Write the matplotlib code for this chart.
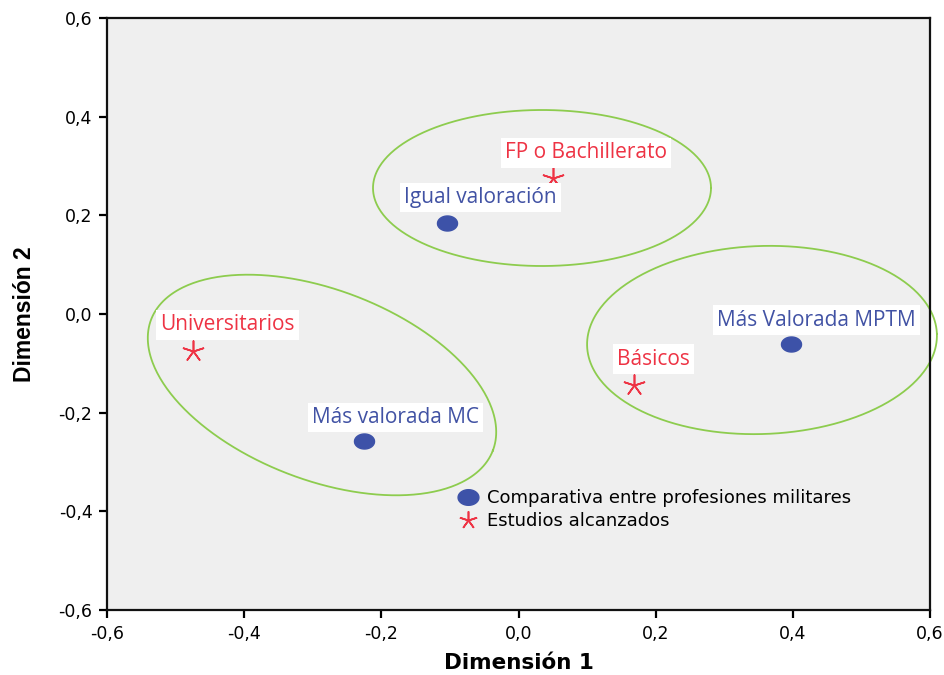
import numpy as np
import matplotlib
matplotlib.use("Agg")
import matplotlib.pyplot as plt
from matplotlib.path import Path
from matplotlib.lines import Line2D

# Data
prof_labels = ["Igual valoración", "Más Valorada MPTM", "Más valorada MC"]
prof_x = [-0.104, 0.397, -0.225]
prof_y = [0.185, -0.061, -0.258]

est_labels = ["FP o Bachillerato", "Básicos", "Universitarios"]
est_x = [0.050, 0.168, -0.474]
est_y = [0.276, -0.144, -0.075]

legend_labels = ["Comparativa entre profesiones militares", "Estudios alcanzados"]
ticks = [-0.6, -0.4, -0.2, 0.0, 0.2, 0.4, 0.6]
tick_labels = [f"{t:.1f}".replace(".", ",") for t in ticks]

BLUE = "#3d52a8"
BLUE_TXT = "#4152a4"
RED = "#ee3344"
GREEN = "#8dcc4e"

fig = plt.figure(figsize=(9.44, 6.75), dpi=100)
ax = fig.add_axes([107/944, 1-610/675, (930-107)/944, (610-18)/675])
ax.set_facecolor("#efefef")
ax.set_xlim(-0.6, 0.6)
ax.set_ylim(-0.6, 0.6)

# elliptical marker (slightly wider than tall)
th = np.linspace(0, 2*np.pi, 60)
ell_marker = Path(np.column_stack([np.cos(th), 0.75*np.sin(th)]), closed=True)
star_marker = (5, 2, 0)

# Ellipses (drawn in pixel space, converted to data)
def px_to_data(px, py):
    x = -0.6 + (px - 107) / (930 - 107) * 1.2
    y = 0.6 - (py - 18) / (610 - 18) * 1.2
    return x, y

def draw_ellipse(cx, cy, a, b, ang_deg):
    t = np.linspace(0, 2*np.pi, 400)
    ang = np.deg2rad(ang_deg)
    px = cx + a*np.cos(t)*np.cos(ang) - b*np.sin(t)*np.sin(ang)
    py = cy + a*np.cos(t)*np.sin(ang) + b*np.sin(t)*np.cos(ang)
    x, y = px_to_data(px, py)
    ax.plot(x, y, color=GREEN, lw=1.3, zorder=2, clip_on=False)

draw_ellipse(542, 188, 169, 78, 0)
draw_ellipse(762, 340, 175, 94, -2)
draw_ellipse(322, 385, 183, 95, 21)

ax.scatter(prof_x, prof_y, marker=ell_marker, s=20**2*0.52, color=BLUE, zorder=4)
ax.scatter(est_x, est_y, marker=star_marker, s=15**2, color=RED, linewidths=1.2, zorder=4)

txt_font = ["Open Sans", "DejaVu Sans"]
prof_off = [(33, 25), (26, 24), (31, 24)]
est_off = [(33, 25), (20, 26), (34, 26)]
for lab, x, y, off in zip(prof_labels, prof_x, prof_y, prof_off):
    ax.annotate(lab, (x, y), xytext=off, textcoords="offset pixels", ha="center", va="center",
                fontsize=15, color=BLUE_TXT, family=txt_font, zorder=5,
                bbox=dict(boxstyle="square,pad=0.2", fc="white", ec="none"))
for lab, x, y, off in zip(est_labels, est_x, est_y, est_off):
    ax.annotate(lab, (x, y), xytext=off, textcoords="offset pixels", ha="center", va="center",
                fontsize=15, color=RED, family=txt_font, zorder=5,
                bbox=dict(boxstyle="square,pad=0.2", fc="white", ec="none"))

# Legend
handles = [Line2D([], [], marker=ell_marker, ls="none", color=BLUE, markersize=15),
           Line2D([], [], marker=star_marker, ls="none", color=RED, markersize=13, mew=1.2)]
leg = ax.legend(handles, legend_labels, loc="upper left",
                bbox_to_anchor=((459-107)/823, (610-489)/592),
                frameon=False, handlelength=1.0, handletextpad=0.55, labelspacing=0.27,
                borderpad=0, borderaxespad=0, prop={"family": "DejaVu Sans", "size": 13})

ax.set_xticks(ticks)
ax.set_yticks(ticks)
ax.set_xticklabels(tick_labels)
ax.set_yticklabels(tick_labels)
ax.tick_params(direction="out", length=6, width=1.6, labelsize=12.5)
ax.tick_params(axis="y", pad=4.5)
ax.tick_params(axis="x", pad=5)
for lab in ax.get_xticklabels() + ax.get_yticklabels():
    lab.set_family("DejaVu Sans")
for s in ax.spines.values():
    s.set_linewidth(1.6)
    s.set_color("#111111")

ax.set_xlabel("Dimensión 1", fontsize=15.5, fontweight="bold", family="DejaVu Sans", labelpad=7)
ax.set_ylabel("Dimensión 2", fontsize=16.5, fontweight="bold",
              family=["Liberation Sans", "DejaVu Sans"], labelpad=16)

fig.savefig("out.png", dpi=100)
